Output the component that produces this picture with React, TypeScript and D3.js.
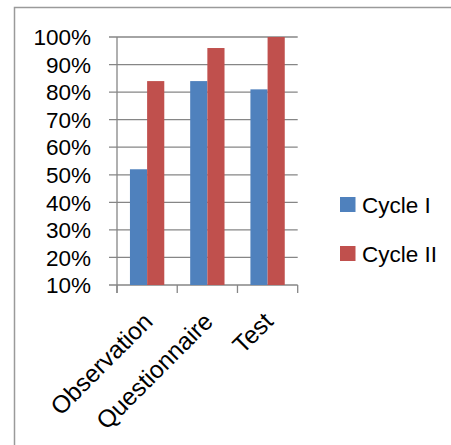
import React from "react";
import * as d3 from "d3";

const categories = ["Observation", "Questionnaire", "Test"];
const seriesNames = ["Cycle I", "Cycle II"];
const cycle1 = [0.52, 0.84, 0.81];
const cycle2 = [0.84, 0.96, 1.0];
const yTicks = [0.1, 0.2, 0.3, 0.4, 0.5, 0.6, 0.7, 0.8, 0.9, 1.0];
const colors = ["#4F81BD", "#C0504D"];

export default function App() {
  const W = 451, H = 445;
  const left = 117, right = 297.7, top = 37, bottom = 285;
  const y = d3.scaleLinear().domain([0.1, 1.0]).range([bottom, top]);
  const x = d3.scaleBand<string>().domain(categories).range([left, right]).paddingInner(0.43).paddingOuter(0.215);
  const x1 = d3.scaleBand<string>().domain(seriesNames).range([0, x.bandwidth()]);
  const step = (right - left) / categories.length;
  const series = [cycle1, cycle2];
  const fmt = d3.format(".0%");
  const font = "'Liberation Sans', Arial, sans-serif";
  const grid = "#868686";
  const fs = 22.5;
  const fsX = 24.5;
  return (
    <svg width={W} height={H} style={{ position: "absolute", left: 0, top: 0, background: "#fff" }} fontFamily={font}>
      <rect x={14.5} y={7.5} width={W + 20} height={H + 20} fill="#fff" stroke="#9a9a9a" strokeWidth={1.5} />
      {yTicks.map((t) => (
        <g key={t}>
          <line x1={left - 8} x2={right} y1={y(t)} y2={y(t)} stroke={grid} strokeWidth={1.3} />
          <text x={91} y={y(t) + 8.2} textAnchor="end" fontSize={fs} fill="#000">{fmt(t)}</text>
        </g>
      ))}
      {categories.map((c, i) =>
        series.map((s, j) => (
          <rect key={c + j} x={(x(c) as number) + (x1(seriesNames[j]) as number)} y={y(s[i])}
            width={x1.bandwidth()} height={bottom - y(s[i])} fill={colors[j]} />
        ))
      )}
      <line x1={left} x2={left} y1={top} y2={bottom + 8} stroke={grid} strokeWidth={1.3} />
      {d3.range(categories.length + 1).map((k) => (
        <line key={k} x1={left + k * step} x2={left + k * step} y1={bottom} y2={bottom + 8} stroke={grid} strokeWidth={1.3} />
      ))}
      {categories.map((c) => {
        const cx = (x(c) as number) + x.bandwidth() / 2 + 7;
        const cy = 323;
        return (
          <text key={c} x={cx} y={cy} textAnchor="end" fontSize={fsX} fill="#000"
            transform={`rotate(-45 ${cx} ${cy})`}>{c}</text>
        );
      })}
      {seriesNames.map((n, j) => (
        <g key={n}>
          <rect x={340} y={197 + j * 49} width={15.5} height={15} fill={colors[j]} />
          <text x={362} y={213 + j * 49} fontSize={fs} fill="#000">{n}</text>
        </g>
      ))}
    </svg>
  );
}
